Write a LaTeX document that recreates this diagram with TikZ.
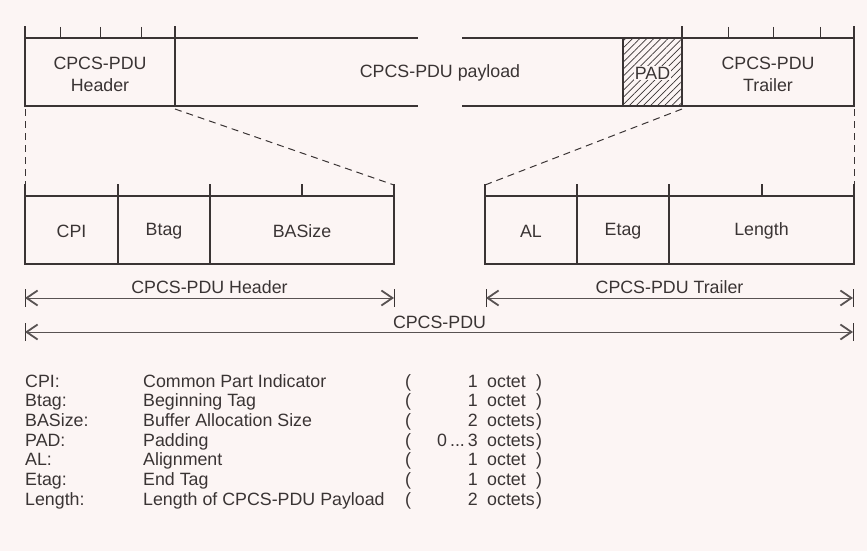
\documentclass[tikz,border=0pt]{standalone}
\usepackage{fontspec}
\setmainfont{Liberation Sans}
\usetikzlibrary{arrows.meta,patterns.meta}
\definecolor{bg}{HTML}{FCF5F4}
\definecolor{ink}{HTML}{3A3434}
\begin{document}
\begin{tikzpicture}[x=1pt,y=-1pt,
  box/.style={draw=ink,line width=2.2pt,line cap=rect},
  tickline/.style={draw=ink,line width=0.9pt},
  dashline/.style={draw=ink,line width=1pt,dash pattern=on 7pt off 5pt},
  lbl/.style={font=\fontsize{17.8}{22}\selectfont,text=ink,align=center,inner sep=0pt},
  leg/.style={font=\fontsize{17.8}{20}\selectfont,text=ink,inner sep=0pt,anchor=base west},
  legr/.style={font=\fontsize{17.8}{20}\selectfont,text=ink,inner sep=0pt,anchor=base east},
  dimline/.style={draw=ink!85,line width=0.8pt,
    {Straight Barb[length=11pt,width=15pt,line width=1.8pt]}-{Straight Barb[length=11pt,width=15pt,line width=1.8pt]}},
  dimbar/.style={draw=ink,line width=1pt}]
\fill[bg] (0,0) rectangle (867,551);
\useasboundingbox (0,0) rectangle (867,551);

% ---------- top frame ----------
\fill[pattern={Lines[angle=45,distance=5pt,line width=0.7pt]},pattern color=ink] (623,38) rectangle (682,106);
\draw[box] (25,38) -- (417,38);
\draw[box] (25,106) -- (417,106);
\draw[box] (463,38) -- (854,38);
\draw[box] (463,106) -- (854,106);
\draw[box] (25,27) -- (25,106);
\draw[box] (175,27) -- (175,106);
\draw[box] (623,38) -- (623,106);
\draw[box] (682,27) -- (682,106);
\draw[box] (854,27) -- (854,106);
\foreach \x in {60,100,141,728,773,820} \draw[tickline] (\x,27) -- (\x,38);

\node[lbl] (hdr) at (100,74) {CPCS-PDU\\Header};
\node[lbl] (pay) at (440,73) {CPCS-PDU payload};
\node[lbl,fill=bg,inner sep=1pt] (pad) at (652.5,73) {PAD};
\node[lbl] (trl) at (768,74) {CPCS-PDU\\Trailer};

% ---------- corner coordinates ----------
\coordinate (tHL) at (25,109);
\coordinate (tHR) at (175,109);
\coordinate (tTL) at (682,109);
\coordinate (tTR) at (854,109);
\coordinate (bHL) at (25,185);
\coordinate (bHR) at (394,185);
\coordinate (bTL) at (485,185);
\coordinate (bTR) at (854,185);

\draw[dashline] (tHL) -- (bHL);
\draw[dashline] (tHR) -- (bHR);
\draw[dashline] (tTL) -- (bTL);
\draw[dashline] (tTR) -- (bTR);

% ---------- lower frames ----------
\draw[box] (25,196) -- (394,196);
\draw[box] (25,264) -- (394,264);
\foreach \x in {25,118,210,394} \draw[box] (\x,185) -- (\x,264);
\draw[box] (302,185) -- (302,196);
\draw[box] (485,196) -- (854,196);
\draw[box] (485,264) -- (854,264);
\foreach \x in {485,577,669,854} \draw[box] (\x,185) -- (\x,264);
\draw[box] (762,185) -- (762,196);

\node[lbl] (cpi) at (71.5,231) {CPI};
\node[lbl] (btag) at (164,231) {Btag};
\node[lbl] (basize) at (302,231) {BASize};
\node[lbl] (al) at (531,231) {AL};
\node[lbl] (etag) at (623,231) {Etag};
\node[lbl] (len) at (761.5,231) {Length};

% ---------- dimension arrows ----------
\coordinate (dH1) at (25,298);
\coordinate (dH2) at (394,298);
\coordinate (dT1) at (486,298);
\coordinate (dT2) at (853,298);
\coordinate (dP1) at (25,332);
\coordinate (dP2) at (853,332);
\foreach \x in {25,394,486,853} \draw[dimbar] (\x,289) -- (\x,307);
\foreach \x in {25,853} \draw[dimbar] (\x,323) -- (\x,341);
\draw[dimline] (dH1) -- (dH2);
\draw[dimline] (dT1) -- (dT2);
\draw[dimline] (dP1) -- (dP2);
\node[lbl] (lH) at (209.5,287) {CPCS-PDU Header};
\node[lbl] (lT) at (669.5,287) {CPCS-PDU Trailer};
\node[lbl] (lP) at (439.5,322) {CPCS-PDU};

% ---------- legend ----------
\foreach \i/\a/\b/\n/\u in {
  0/CPI:/Common Part Indicator/1/octet,
  1/Btag:/Beginning Tag/1/octet,
  2/BASize:/Buffer Allocation Size/2/octets,
  3/PAD:/Padding/{0\,...\,3}/octets,
  4/AL:/Alignment/1/octet,
  5/Etag:/End Tag/1/octet,
  6/Length:/Length of CPCS-PDU Payload/2/octets} {
  \pgfmathsetmacro{\yy}{387+19.7*\i}
  \node[leg] (la\i) at (25,\yy) {\a};
  \node[leg] (lb\i) at (143,\yy) {\b};
  \node[leg] (lo\i) at (405,\yy) {(};
  \node[legr] (ln\i) at (478,\yy) {\n};
  \node[leg] (lu\i) at (487,\yy) {\u};
  \node[leg] (lc\i) at (536,\yy) {)};
}
\end{tikzpicture}
\end{document}
